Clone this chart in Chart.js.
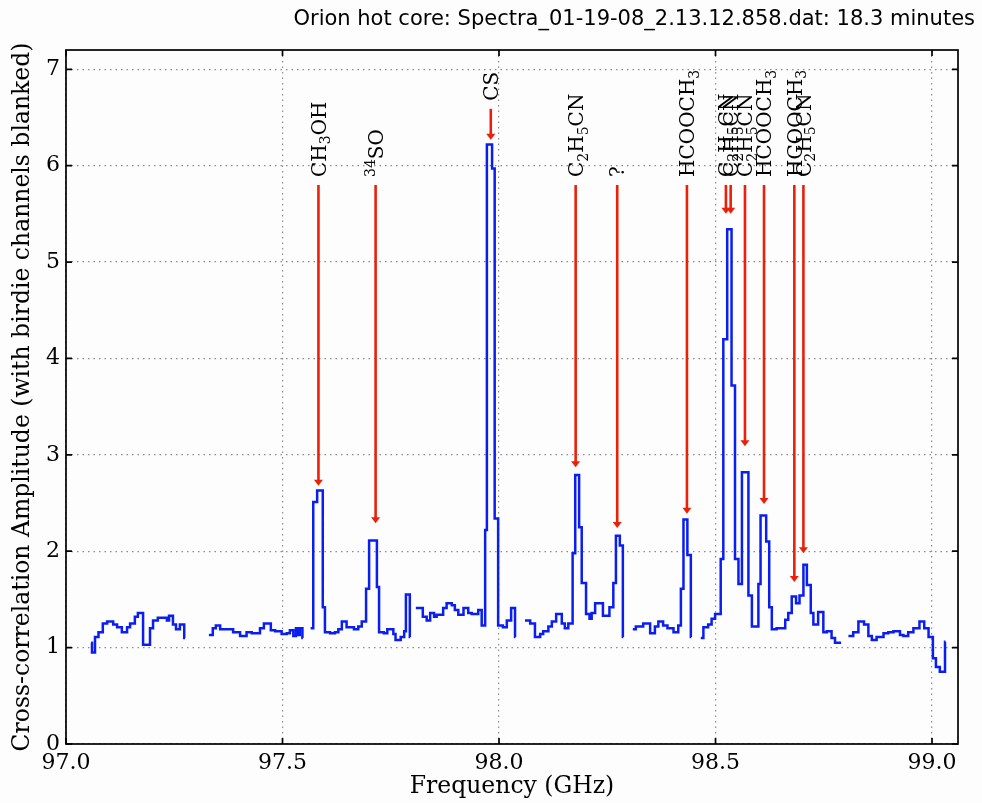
<!DOCTYPE html>
<html>
<head>
<meta charset="utf-8">
<script src="https://cdn.jsdelivr.net/npm/chart.js@4.4.1/dist/chart.umd.min.js"></script>
<style>
  html, body { margin: 0; padding: 0; background: #fdfdfd; }
</style>
</head>
<body>
<canvas id="spectrum" width="982" height="803"></canvas>
<script>
// channel start frequencies (GHz) and amplitudes, null = blanked birdie channels
const freqGHz = [
  97.058, 97.060, 97.067, 97.075, 97.085, 97.095, 97.109, 97.118, 97.129, 97.141,
  97.148, 97.159, 97.166, 97.178, 97.194, 97.201, 97.212, 97.233, 97.238, 97.247,
  97.254, 97.263, 97.273, 97.275, 97.300,
  97.330, 97.339, 97.346, 97.356, 97.386, 97.402, 97.417, 97.429, 97.448, 97.457,
  97.473, 97.483, 97.498, 97.510, 97.517, 97.525, 97.531, 97.536, 97.540, 97.546,
  97.547, 97.556,
  97.565, 97.571, 97.580, 97.593, 97.598, 97.610, 97.621, 97.629, 97.637, 97.648,
  97.665, 97.675, 97.683, 97.693, 97.700, 97.718, 97.723, 97.734, 97.742, 97.756,
  97.761, 97.773, 97.781, 97.785, 97.794, 97.795, 97.801,
  97.808, 97.824, 97.833, 97.841, 97.850, 97.856, 97.871, 97.879, 97.891, 97.898,
  97.906, 97.918, 97.929, 97.937, 97.952, 97.960, 97.968, 97.972, 97.984, 97.990,
  97.998, 98.009, 98.018, 98.028, 98.037, 98.038, 98.049,
  98.060, 98.072, 98.083, 98.095, 98.102, 98.114, 98.122, 98.132, 98.145, 98.152,
  98.160, 98.170, 98.176, 98.185, 98.191, 98.201, 98.209, 98.214, 98.222, 98.240,
  98.255, 98.264, 98.270, 98.279, 98.286, 98.287, 98.298,
  98.309, 98.316, 98.333, 98.349, 98.360, 98.368, 98.379, 98.389, 98.403, 98.414,
  98.420, 98.426, 98.435, 98.443, 98.444, 98.455,
  98.466, 98.472, 98.483, 98.491, 98.499, 98.512, 98.518, 98.527, 98.537, 98.545,
  98.553, 98.561, 98.576, 98.584, 98.599, 98.604, 98.617, 98.624, 98.630, 98.641,
  98.661, 98.668, 98.676, 98.686, 98.694, 98.703, 98.711, 98.720, 98.726, 98.737,
  98.749, 98.757, 98.768, 98.776, 98.790, 98.799,
  98.807, 98.818, 98.830, 98.843, 98.853, 98.861, 98.872, 98.888, 98.899, 98.911,
  98.926, 98.934, 98.945, 98.957, 98.971, 98.982, 98.992, 99.002, 99.009, 99.018,
  99.030, 99.031
];
const amplitude = [
  1.05, 0.95, 1.11, 1.16, 1.25, 1.27, 1.24, 1.21, 1.16, 1.21,
  1.25, 1.32, 1.36, 1.03, 1.20, 1.28, 1.31, 1.28, 1.33, 1.24,
  1.19, 1.24, 1.10, 1.10, null,
  1.13, 1.20, 1.23, 1.19, 1.16, 1.12, 1.16, 1.15, 1.20, 1.25,
  1.18, 1.17, 1.14, 1.15, 1.18, 1.12, 1.20, 1.13, 1.20, 1.10,
  1.10, null,
  1.20, 2.51, 2.63, 1.42, 1.16, 1.15, 1.16, 1.19, 1.27, 1.21,
  1.19, 1.22, 1.27, 1.61, 2.11, 1.63, 1.16, 1.15, 1.19, 1.14,
  1.08, 1.11, 1.17, 1.55, 1.11, 1.11, null,
  1.41, 1.32, 1.28, 1.36, 1.32, 1.34, 1.41, 1.46, 1.44, 1.39,
  1.34, 1.41, 1.36, 1.35, 1.39, 1.23, 2.22, 6.22, 5.97, 2.34,
  1.23, 1.21, 1.28, 1.41, 1.11, 1.11, null,
  1.28, 1.25, 1.11, 1.14, 1.17, 1.22, 1.27, 1.35, 1.25, 1.20,
  1.25, 1.98, 2.79, 2.25, 1.67, 1.35, 1.30, 1.36, 1.46, 1.33,
  1.42, 1.67, 2.16, 2.06, 1.11, 1.11, null,
  1.19, 1.22, 1.25, 1.15, 1.22, 1.27, 1.23, 1.20, 1.16, 1.23,
  1.61, 2.33, 1.96, 1.11, 1.11, null,
  1.10, 1.21, 1.24, 1.30, 1.35, 1.92, 4.20, 5.34, 3.72, 1.92,
  1.66, 2.82, 1.54, 1.22, 1.66, 2.37, 2.10, 1.42, 1.19, 1.20,
  1.29, 1.36, 1.53, 1.46, 1.54, 1.86, 1.65, 1.36, 1.24, 1.37,
  1.16, 1.17, 1.10, 1.05, 1.05, null,
  1.12, 1.16, 1.27, 1.24, 1.12, 1.08, 1.11, 1.15, 1.16, 1.17,
  1.13, 1.12, 1.16, 1.20, 1.27, 1.20, 1.11, 0.89, 0.80, 0.75,
  1.06, 1.06
];

// identified lines: frequency, arrow tip and arrow top (amplitude units), label
const lineFreqs = [97.583, 97.715, 97.981, 98.177, 98.273, 98.434, 98.524, 98.535, 98.568, 98.612, 98.682, 98.703];
const lineTips  = [2.68, 2.29, 6.27, 2.87, 2.24, 2.39, 5.50, 5.50, 3.09, 2.49, 1.68, 1.98];
const arrowTops = [5.80, 5.80, 6.59, 5.80, 5.80, 5.80, 5.80, 5.80, 5.80, 5.80, 5.80, 5.80];
const lineNames = ['CH_3OH', '^{34}SO', 'CS', 'C_2H_5CN', '?', 'HCOOCH_3', 'C_2H_5CN', 'C_2H_5CN',
                   'C_2H_5CN', 'HCOOCH_3', 'HCOOCH_3', 'C_2H_5CN'];

const xTicks = [97.0, 97.5, 98.0, 98.5, 99.0];
const yTicks = [0, 1, 2, 3, 4, 5, 6, 7];
const titleText = 'Orion hot core: Spectra_01-19-08_2.13.12.858.dat: 18.3 minutes';

const serif = '"DejaVu Serif", serif';

function drawLabel(ctx, text, px, baseY) {
  const size = 20;
  const parts = [];
  let i = 0;
  while (i < text.length) {
    const c = text[i];
    if (c === '_' || c === '^') {
      let s;
      if (text[i + 1] === '{') {
        const j = text.indexOf('}', i);
        s = text.slice(i + 2, j);
        i = j + 1;
      } else {
        s = text[i + 1];
        i += 2;
      }
      parts.push({ s, mode: c });
    } else {
      parts.push({ s: c, mode: '' });
      i++;
    }
  }
  ctx.save();
  ctx.translate(px, baseY);
  ctx.rotate(-Math.PI / 2);
  ctx.fillStyle = '#000';
  ctx.textBaseline = 'alphabetic';
  ctx.textAlign = 'left';
  let cx = 0;
  parts.forEach(p => {
    const fs = p.mode ? size * 0.7 : size;
    ctx.font = fs + 'px ' + serif;
    const dy = p.mode === '_' ? size * 0.24 : p.mode === '^' ? -size * 0.4 : 0;
    ctx.fillText(p.s, cx, size * 0.36 + dy);
    cx += ctx.measureText(p.s).width;
  });
  ctx.restore();
}

const decor = {
  id: 'decor',
  afterDatasetsDraw(chart) {
    const { ctx, chartArea: a, scales: { x, y } } = chart;
    // red arrows and line labels
    ctx.save();
    ctx.strokeStyle = '#ea200a';
    ctx.fillStyle = '#ea200a';
    ctx.lineWidth = 2.6;
    lineFreqs.forEach((f, i) => {
      const px = x.getPixelForValue(f);
      const top = y.getPixelForValue(arrowTops[i]);
      const tip = y.getPixelForValue(lineTips[i]);
      ctx.beginPath();
      ctx.moveTo(px, top);
      ctx.lineTo(px, tip - 4);
      ctx.stroke();
      ctx.beginPath();
      ctx.moveTo(px - 4.5, tip - 6);
      ctx.lineTo(px + 4.5, tip - 6);
      ctx.lineTo(px, tip);
      ctx.closePath();
      ctx.fill();
    });
    ctx.restore();
    lineFreqs.forEach((f, i) => {
      drawLabel(ctx, lineNames[i], x.getPixelForValue(f), y.getPixelForValue(arrowTops[i]) - 8);
    });

    // axes frame and inward ticks
    ctx.save();
    ctx.strokeStyle = '#000';
    ctx.lineWidth = 1.7;
    ctx.strokeRect(a.left, a.top, a.right - a.left, a.bottom - a.top);
    ctx.beginPath();
    xTicks.forEach(t => {
      const px = x.getPixelForValue(t);
      ctx.moveTo(px, a.bottom); ctx.lineTo(px, a.bottom - 6);
      ctx.moveTo(px, a.top); ctx.lineTo(px, a.top + 6);
    });
    yTicks.forEach(t => {
      const py = y.getPixelForValue(t);
      ctx.moveTo(a.left, py); ctx.lineTo(a.left + 6, py);
      ctx.moveTo(a.right, py); ctx.lineTo(a.right - 6, py);
    });
    ctx.stroke();
    ctx.restore();
  },
  afterDraw(chart) {
    const ctx = chart.ctx;
    ctx.save();
    ctx.fillStyle = '#000';
    ctx.font = '21px "DejaVu Sans", sans-serif';
    ctx.textAlign = 'right';
    ctx.textBaseline = 'middle';
    ctx.fillText(titleText, 975, 20);
    ctx.restore();
  }
};

const ctx = document.getElementById('spectrum').getContext('2d');

new Chart(ctx, {
  type: 'line',
  data: {
    datasets: [{
      data: freqGHz.map((f, i) => ({ x: f, y: amplitude[i] })),
      borderColor: 'rgb(10, 30, 240)',
      borderWidth: 2.5,
      pointRadius: 0,
      stepped: true,
      spanGaps: false,
      fill: false
    }]
  },
  options: {
    responsive: false,
    animation: false,
    layout: { padding: { top: 50, right: 24, left: 0, bottom: 0 } },
    plugins: {
      legend: { display: false },
      tooltip: { enabled: false }
    },
    scales: {
      x: {
        type: 'linear',
        min: 97.0,
        max: 99.06,
        afterBuildTicks: s => { s.ticks = xTicks.map(v => ({ value: v })); },
        afterFit: s => { s.height = 59; },
        grid: { color: '#8c8c8c', lineWidth: 1.2, drawTicks: false },
        border: { display: false, dash: [1.5, 4] },
        ticks: {
          padding: 6,
          color: '#000',
          font: { family: serif, size: 22 },
          maxRotation: 0,
          callback: v => Number(v).toFixed(1)
        },
        title: {
          display: true,
          text: 'Frequency (GHz)',
          color: '#000',
          font: { family: serif, size: 23.5 },
          padding: { top: 0, bottom: 2 }
        }
      },
      y: {
        min: 0,
        max: 7.2,
        afterBuildTicks: s => { s.ticks = yTicks.map(v => ({ value: v })); },
        afterFit: s => { s.width = 66; },
        grid: { color: '#8c8c8c', lineWidth: 1.2, drawTicks: false },
        border: { display: false, dash: [1.5, 4] },
        ticks: {
          padding: 6,
          color: '#000',
          font: { family: serif, size: 22 },
          callback: v => String(v)
        },
        title: {
          display: true,
          text: 'Cross-correlation Amplitude (with birdie channels blanked)',
          color: '#000',
          font: { family: serif, size: 23.5 },
          padding: { top: 9, bottom: 0 }
        }
      }
    }
  },
  plugins: [decor]
});
</script>
</body>
</html>
